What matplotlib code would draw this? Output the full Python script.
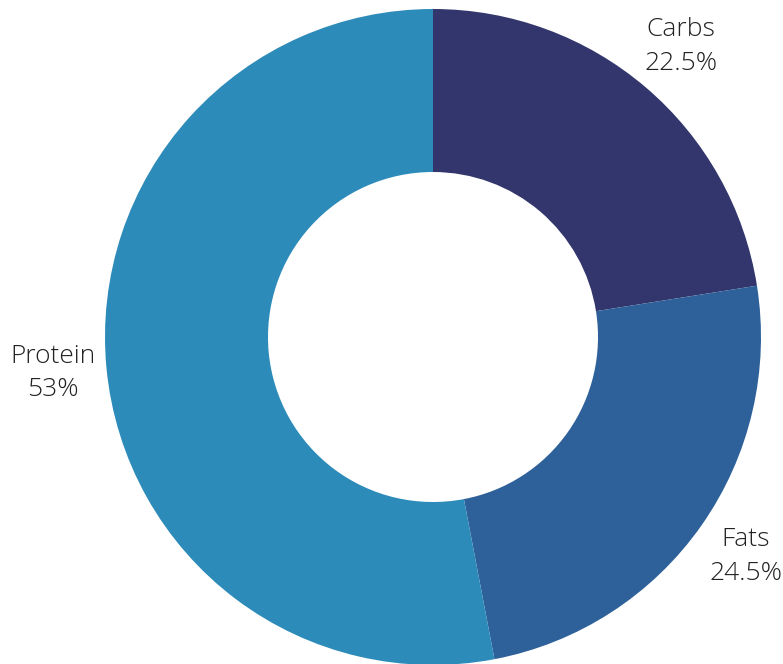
import matplotlib
matplotlib.use("Agg")
import matplotlib.pyplot as plt

# macro split
labels = ["Carbs", "Fats", "Protein"]
values = [22.5, 24.5, 53]
value_text = ["22.5%", "24.5%", "53%"]
colors = ["#32366c", "#2e6199", "#2d8bba"]

fig = plt.figure(figsize=(7.83, 6.64), dpi=100)
ax = fig.add_axes([0, 0, 1, 1])

names = [l + "\n" + v for l, v in zip(labels, value_text)]
wedges, texts = ax.pie(values, labels=names, colors=colors, startangle=90,
                       counterclock=False, center=(433, 327), radius=328,
                       labeldistance=1.165, frame=True,
                       wedgeprops=dict(width=163, linewidth=0),
                       textprops=dict(fontsize=19, color="#222222",
                                      family="Open Sans", weight="light",
                                      linespacing=1.45))
for t in texts:
    t.set_ha("center")
    t.set_va("center")
ax.set_xlim(0, 783)
ax.set_ylim(0, 664)
ax.set_aspect("equal")
ax.axis("off")

fig.savefig("out.png", dpi=100)
